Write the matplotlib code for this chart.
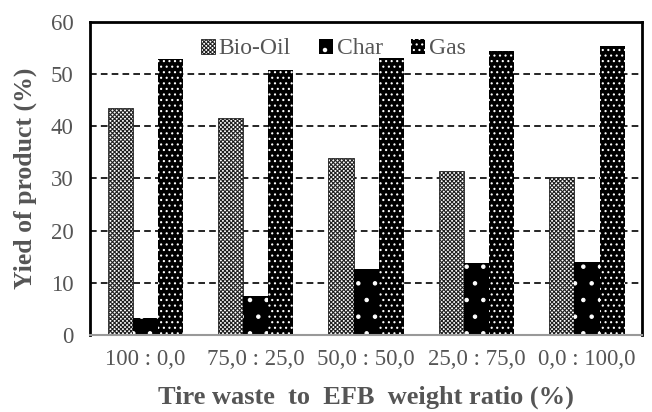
import numpy as np
import matplotlib.pyplot as plt

plt.rcParams['font.family'] = ['Liberation Serif', 'DejaVu Serif']
plt.rcParams['hatch.linewidth'] = 0.8

ratios = ["100 : 0,0", "75,0 : 25,0", "50,0 : 50,0", "25,0 : 75,0", "0,0 : 100,0"]
bio_oil = [43.5, 41.5, 34.0, 31.5, 30.3]
char = [3.3, 7.5, 12.7, 13.7, 14.0]
gas = [52.8, 50.7, 53.0, 54.5, 55.3]

fig = plt.figure(figsize=(6.52, 4.12), dpi=100)
ax = fig.add_axes([0.138, 0.187, 0.847, 0.76])

x = np.arange(len(ratios))
w = 0.227
ax.bar(x - w, bio_oil, w, color="white", edgecolor="#202020", hatch="xxxxxxxx",
       linewidth=0.6, label="Bio-Oil", zorder=2)
ax.bar(x, char, w, color="black", edgecolor="white", hatch=".",
       linewidth=0.0, label="Char", zorder=2)
ax.bar(x + w, gas, w, color="black", edgecolor="white", hatch="...",
       linewidth=0.0, label="Gas", zorder=2)

ax.set_ylim(0, 60)
ax.set_xlim(-0.5, len(ratios) - 0.5)
ax.set_yticks(np.arange(0, 61, 10))
ax.set_xticks(x)
ax.set_xticklabels(ratios)
ax.yaxis.grid(True, linestyle=(0, (4, 2.5)), color="black", linewidth=1.2)
ax.set_axisbelow(True)
ax.tick_params(axis="x", length=0, labelsize=16.5, colors="#555555", pad=10)
ax.tick_params(axis="y", length=0, labelsize=16.5, colors="#555555", pad=12)

for side in ["top", "left", "right"]:
    ax.spines[side].set_linewidth(2.0)
    ax.spines[side].set_color("black")
ax.spines["bottom"].set_color("#999999")
ax.spines["bottom"].set_linewidth(1.5)

ax.set_ylabel("Yied of product (%)", fontsize=18.5, fontweight="bold",
              color="#555555", labelpad=10)
ax.set_xlabel("Tire waste  to  EFB  weight ratio (%)", fontsize=19,
              fontweight="bold", color="#555555", labelpad=11)

leg = ax.legend(loc="upper center", bbox_to_anchor=(0.44, 0.985), ncol=3,
                frameon=False, fontsize=17, handlelength=0.6,
                handleheight=0.6, handletextpad=0.15, columnspacing=1.2,
                borderaxespad=0.1)
for t in leg.get_texts():
    t.set_color("#555555")

fig.savefig("out.png", dpi=100)
